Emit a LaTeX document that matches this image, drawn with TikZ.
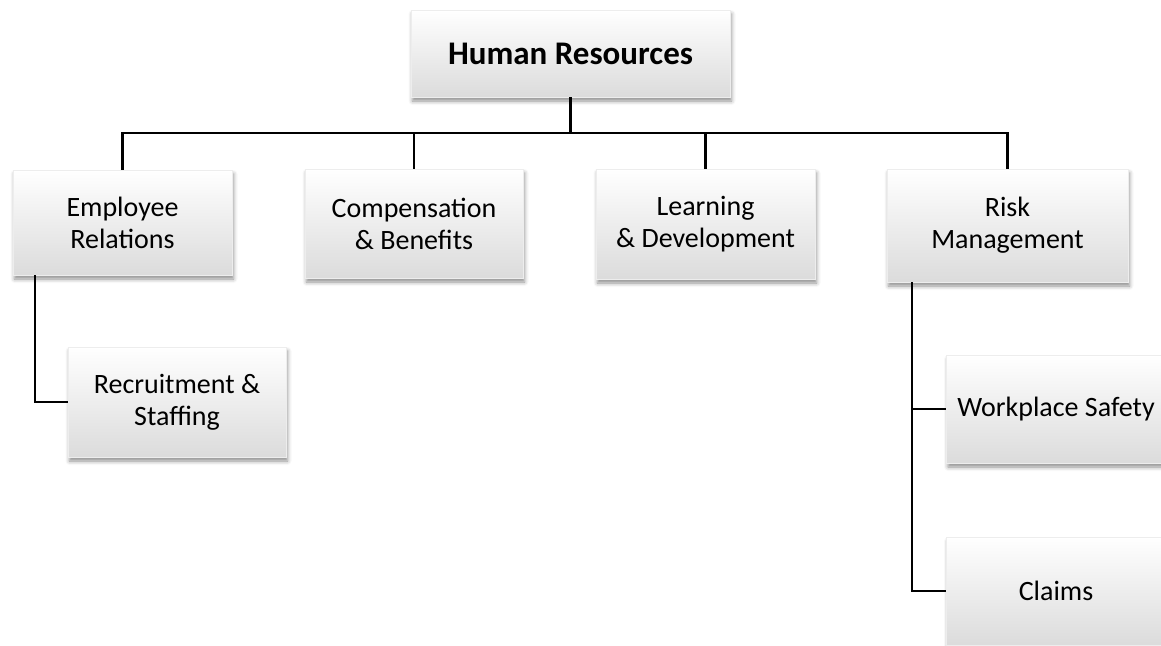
\documentclass[tikz,border=0pt]{standalone}
\usepackage{fontspec}
\setmainfont{Carlito}
\usetikzlibrary{positioning, shadows.blur}

\begin{document}
\begin{tikzpicture}[x=1pt, y=-1pt,
	unit/.style={rectangle, inner sep=0pt, align=center,
		font=\fontsize{28}{32}\selectfont,
		top color=white, bottom color=black!14, draw=black!7,
		blur shadow={shadow xshift=1.5pt, shadow yshift=-4pt,
			shadow blur radius=4pt, shadow opacity=45}},
	link/.style={line width=2.5pt}]
	\useasboundingbox (0,0) rectangle (1161,645);
	% boxes
	\node[unit, minimum width=319pt, minimum height=87pt,
		font=\fontsize{33}{32}\selectfont\bfseries] (hr) at (570.5,53.5) {Human Resources};
	\node[unit, minimum width=219pt, minimum height=105pt] (er) at (122.5,222.5) {Employee\\Relations};
	\node[unit, minimum width=218pt, minimum height=109pt] (cb) at (414,223.5) {Compensation\\\& Benefits};
	\node[unit, minimum width=219pt, minimum height=110pt] (ld) at (705.5,224) {Learning\\\& Development};
	\node[unit, minimum width=241pt, minimum height=113pt] (rm) at (1007.5,225.5) {Risk\\Management};
	\node[unit, minimum width=218pt, minimum height=110pt] (rs) at (177,402) {Recruitment \&\\Staffing};
	\node[unit, minimum width=219pt, minimum height=108pt] (ws) at (1056,409) {Workplace Safety};
	\node[unit, minimum width=219pt, minimum height=108pt] (cl) at (1056,591) {Claims};
	% lines
	\coordinate (bus) at (570.5,133);
	\draw[link] (hr.south) -- (bus);
	\draw[link] (er.north) |- (bus) -| (rm.north);
	\draw[link] (cb.north) -- (cb.north |- bus);
	\draw[link] (ld.north) -- (ld.north |- bus);
	\draw[link] ([xshift=22pt]er.south west) |- (rs.west);
	\draw[link] ([xshift=25pt]rm.south west) |- (ws.west);
	\draw[link] ([xshift=25pt]rm.south west) |- (cl.west);
\end{tikzpicture}
\end{document}
